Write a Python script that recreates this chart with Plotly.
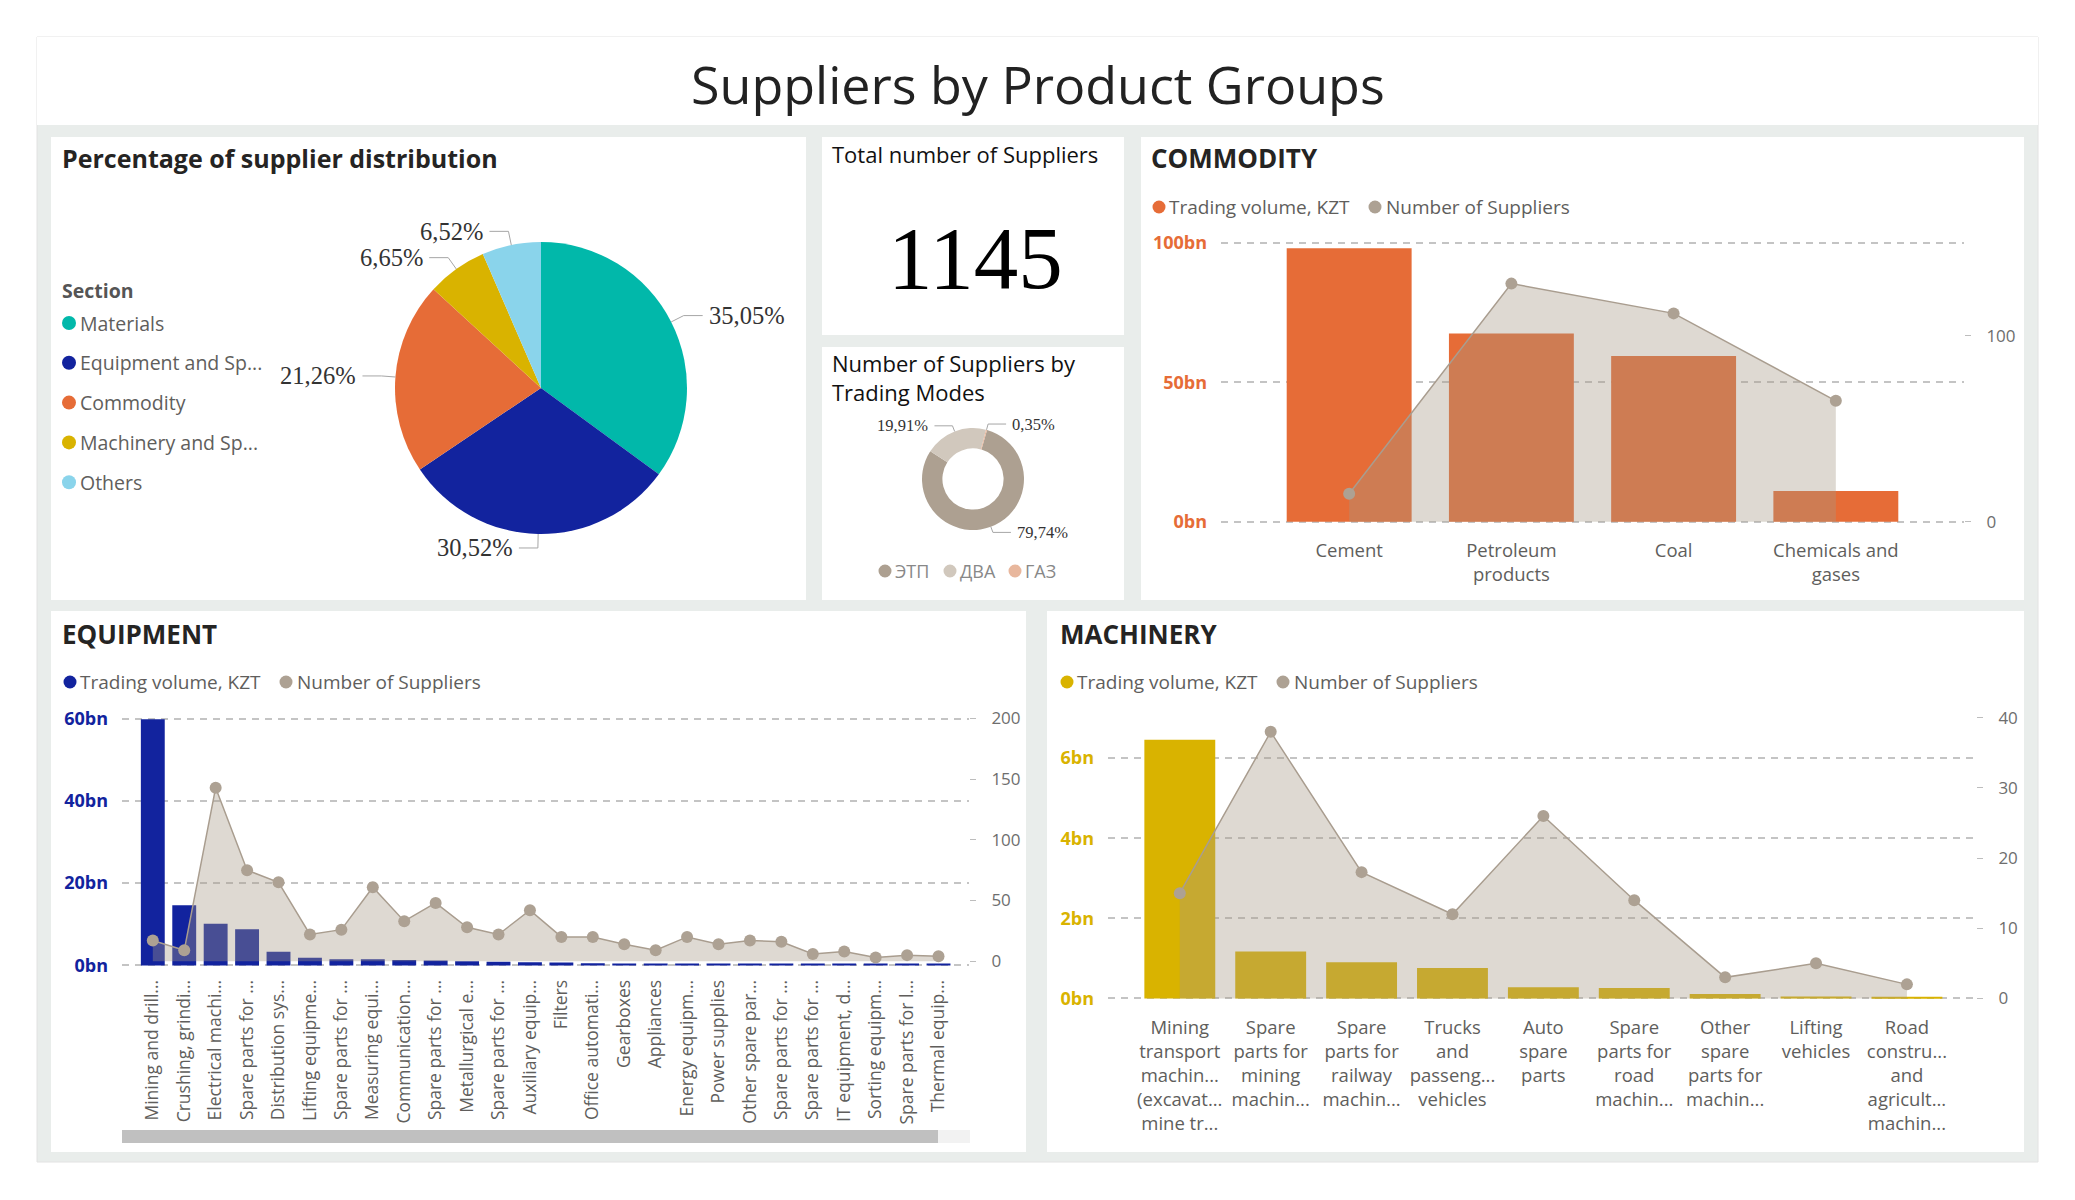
import math
import plotly.graph_objects as go

W, H = 2075, 1200
FONT = "Open Sans"
SERIF = "Liberation Serif"

# ---------------- data ----------------
title_text = "Suppliers by Product Groups"

pie_labels = ["Materials", "Equipment and Sp...", "Commodity", "Machinery and Sp...", "Others"]
pie_values = [35.05, 30.52, 21.26, 6.65, 6.52]
pie_colors = ["#01B8AA", "#12239E", "#E66C37", "#D9B300", "#8AD4EB"]

total_suppliers = 1145

mode_labels = ["ЭТП", "ДВА", "ГАЗ"]
mode_values = [79.74, 19.91, 0.35]
mode_colors = ["#ADA091", "#D1C8BD", "#E8B79D"]

com_cats = ["Cement", "Petroleum<br>products", "Coal", "Chemicals and<br>gases"]
com_volume_bn = [98.0, 67.5, 59.4, 11.0]
com_suppliers = [15, 128, 112, 65]
com_left_ticks = [0, 50, 100]
com_right_ticks = [0, 100]

eq_cats = ["Mining and drill...", "Crushing, grindi...", "Electrical machi...", "Spare parts for ...",
           "Distribution sys...", "Lifting equipme...", "Spare parts for ...", "Measuring equi...",
           "Communication...", "Spare parts for ...", "Metallurgical e...", "Spare parts for ...",
           "Auxiliary equip...", "Filters", "Office automati...", "Gearboxes", "Appliances",
           "Energy equipm...", "Power supplies", "Other spare par...", "Spare parts for ...",
           "Spare parts for ...", "IT equipment, d...", "Sorting equipm...", "Spare parts for l...",
           "Thermal equip..."]
eq_volume_bn = [59.8, 14.6, 10.1, 8.8, 3.3, 1.85, 1.5, 1.5, 1.3, 1.2, 1.0, 0.9, 0.75, 0.7, 0.5,
                0.45, 0.42, 0.4, 0.38, 0.36, 0.35, 0.33, 0.32, 0.3, 0.28, 0.26]
eq_suppliers = [17, 9, 143, 75, 65, 22, 26, 61, 33, 48, 28, 22, 42, 20, 20, 14, 9, 20, 14, 17,
                16, 6, 8, 3, 5, 4]
eq_left_ticks = [0, 20, 40, 60]
eq_right_ticks = [0, 50, 100, 150, 200]

mach_cats = ["Mining<br>transport<br>machin...<br>(excavat...<br>mine tr...",
             "Spare<br>parts for<br>mining<br>machin...",
             "Spare<br>parts for<br>railway<br>machin...",
             "Trucks<br>and<br>passeng...<br>vehicles",
             "Auto<br>spare<br>parts",
             "Spare<br>parts for<br>road<br>machin...",
             "Other<br>spare<br>parts for<br>machin...",
             "Lifting<br>vehicles",
             "Road<br>constru...<br>and<br>agricult...<br>machin..."]
mach_volume_bn = [6.46, 1.17, 0.90, 0.76, 0.28, 0.26, 0.11, 0.05, 0.04]
mach_suppliers = [15, 38, 18, 12, 26, 14, 3, 5, 2]
mach_left_ticks = [0, 2, 4, 6]
mach_right_ticks = [0, 10, 20, 30, 40]

legend_names = ["Trading volume, KZT", "Number of Suppliers"]

# ---------------- styles ----------------
BG = "#E9EDEB"
DARK = "#252423"
GRAY = "#605E5C"
AXGRAY = "#6E6E6E"
GRID = "#C4C4C4"
AREA_LINE = "#A99D8F"
AREA_MARK = "#ADA193"
AREA_FILL = "rgba(166,151,134,0.37)"
COM_C = "#E66C37"
EQ_C = "#12239E"
MACH_C = "#D9B300"


def fx(x):
    return x / W


def fy(y):
    return 1 - y / H


shapes = []
annotations = []


def rect(x0, y0, x1, y1, fill, line=None, layer="below"):
    shapes.append(dict(type="rect", xref="paper", yref="paper", x0=fx(x0), x1=fx(x1),
                       y0=fy(y1), y1=fy(y0), fillcolor=fill,
                       line=dict(width=1 if line else 0, color=line or fill), layer=layer))


def dot(cx, cy, r, color):
    shapes.append(dict(type="circle", xref="paper", yref="paper", x0=fx(cx - r), x1=fx(cx + r),
                       y0=fy(cy + r), y1=fy(cy - r), fillcolor=color, line=dict(width=0),
                       layer="above"))


def text(x, y, s, size, color, family=FONT, xanchor="left", yanchor="middle", weight=None):
    f = dict(size=size, color=color, family=family)
    if weight:
        f["weight"] = weight
    annotations.append(dict(x=fx(x), y=fy(y), xref="paper", yref="paper", text=s,
                            showarrow=False, xanchor=xanchor, yanchor=yanchor, font=f,
                            borderpad=0))


def slice_labels(values, cx, cy, r, rotation, k, h, gap, size):
    total = sum(values)
    cum = 0.0
    for v in values:
        mid = rotation + 360.0 * (cum + v / 2.0) / total
        cum += v
        a = math.radians(mid)
        sx, sy = math.sin(a), -math.cos(a)
        ex, ey = cx + r * sx, cy + r * sy
        bx, by = ex + k * sx, ey + k * sy
        side = 1 if sx >= 0 else -1
        tx = bx + side * h
        shapes.append(dict(type="path", xref="paper", yref="paper",
                           path=f"M {fx(ex)} {fy(ey)} L {fx(bx)} {fy(by)} L {fx(tx)} {fy(by)}",
                           line=dict(color="#A6A6A6", width=1), layer="above"))
        label = f"{100.0 * v / total:.2f}%".replace(".", ",")
        text(tx + side * gap, by, label, size, "#333333", family=SERIF,
             xanchor="left" if side > 0 else "right")


def chart_legend(x, y, color):
    dot(x, y, 6.5, color)
    text(x + 9, y, legend_names[0], 19, GRAY)
    x2 = x + 216
    dot(x2, y, 6.5, AREA_MARK)
    text(x2 + 10, y, legend_names[1], 19, GRAY)


# ---------------- background / panels ----------------
rect(37, 37, 2038, 1162, BG, line="#E2E2E2")
rect(37, 37, 2038, 125, "#FFFFFF")
rect(51, 137, 806, 600, "#FFFFFF")
rect(822, 137, 1124, 335, "#FFFFFF")
rect(822, 347, 1124, 600, "#FFFFFF")
rect(1141, 137, 2024, 600, "#FFFFFF")
rect(51, 611, 1026, 1152, "#FFFFFF")
rect(1047, 611, 2024, 1152, "#FFFFFF")

# title
text(1038, 83, title_text, 52, "#222222", xanchor="center")

# ---------------- pie ----------------
text(61, 158, "Percentage of supplier distribution", 25, DARK, weight=700)
text(61, 291, "Section", 19.5, "#555555", weight=700)
for i, (lab, col) in enumerate(zip(pie_labels, pie_colors)):
    yy = 323 + i * 39.8
    dot(69, yy, 7, col)
    text(79, yy, lab, 19.5, GRAY)

PCX, PCY, PR = 541, 388, 146
pie = go.Pie(labels=pie_labels, values=pie_values, sort=False, direction="clockwise", rotation=0,
             marker=dict(colors=pie_colors, line=dict(width=0)), textinfo="none",
             hoverinfo="label+percent", showlegend=False,
             domain=dict(x=[fx(PCX - PR), fx(PCX + PR)], y=[fy(PCY + PR), fy(PCY - PR)]))
slice_labels(pie_values, PCX, PCY, PR, 0, 14, 19, 5, 24.5)

# ---------------- total card ----------------
text(831, 154, "Total number of Suppliers", 22, "#111111")
text(975, 258, f"{total_suppliers}", 89, "#000000", family=SERIF, xanchor="center")

# ---------------- donut ----------------
text(831, 363, "Number of Suppliers by", 22, "#111111")
text(831, 392, "Trading Modes", 22, "#111111")
DCX, DCY, DR = 973, 479, 51
DROT = 16
donut = go.Pie(labels=mode_labels, values=mode_values, sort=False, direction="clockwise",
               rotation=DROT, hole=0.6, marker=dict(colors=mode_colors, line=dict(width=0)),
               textinfo="none", showlegend=False,
               domain=dict(x=[fx(DCX - DR), fx(DCX + DR)], y=[fy(DCY + DR), fy(DCY - DR)]))
slice_labels(mode_values, DCX, DCY, DR, DROT, 6, 18, 5, 16.5)
lx = 885
for lab, col in zip(mode_labels, mode_colors):
    dot(lx, 571, 6.5, col)
    text(lx + 9, 571, lab, 18, "#888888")
    lx += 65

# ---------------- charts ----------------
chart_legend(1159, 207, COM_C)
text(1150, 158, "COMMODITY", 26, DARK, weight=700)
chart_legend(70, 682, EQ_C)
text(61, 634, "EQUIPMENT", 26, DARK, weight=700)
chart_legend(1067, 682, MACH_C)
text(1059, 634, "MACHINERY", 26, DARK, weight=700)

# scrollbar of equipment chart
rect(122, 1130, 970, 1143, "#F2F2F2")
rect(122, 1130, 938, 1143, "#C0C0C0")

fig = go.Figure()
fig.add_trace(pie)
fig.add_trace(donut)


def combo(cats, vol, sup, color, xa, ya, ya2, width):
    xs = list(range(len(cats)))
    fig.add_trace(go.Bar(x=xs, y=vol, width=width, marker=dict(color=color, line=dict(width=0)),
                         xaxis=xa, yaxis=ya, showlegend=False, name=legend_names[0]))
    fig.add_trace(go.Scatter(x=xs, y=sup, mode="lines+markers", fill="tozeroy",
                             fillcolor=AREA_FILL, line=dict(color=AREA_LINE, width=1.5),
                             marker=dict(color=AREA_MARK, size=12), xaxis=xa, yaxis=ya2,
                             showlegend=False, name=legend_names[1]))


combo(com_cats, com_volume_bn, com_suppliers, COM_C, "x", "y", "y2", 0.77)
combo(eq_cats, eq_volume_bn, eq_suppliers, EQ_C, "x2", "y3", "y4", 0.76)
combo(mach_cats, mach_volume_bn, mach_suppliers, MACH_C, "x3", "y5", "y6", 0.78)

PAD = 2  # px of headroom so that edge gridlines are drawn


def value_range(v0, p0, v1, p1, top, bot):
    ppu = (p0 - p1) / (v1 - v0)
    return [v0 - (bot - p0) / ppu, v1 + (p1 - top) / ppu]


def xax(x0, x1, anchor, rng, cats, angle=0, standoff=14, size=18):
    return dict(domain=[fx(x0), fx(x1)], anchor=anchor, range=rng,
                tickvals=list(range(len(cats))), ticktext=cats, tickangle=angle,
                showgrid=False, zeroline=False, showline=False, ticks="", automargin=False,
                ticklabelstandoff=standoff, tickfont=dict(family=FONT, size=size, color=GRAY),
                fixedrange=True)


def yleft(top, bot, anchor, rng, ticks, color):
    return dict(domain=[fy(bot), fy(top)], anchor=anchor, range=rng, tickvals=ticks,
                ticktext=[f"{t}bn" for t in ticks], showgrid=True, gridcolor=GRID,
                gridwidth=1.5, griddash="7px,6px", zeroline=False, showline=False, ticks="",
                ticklabelstandoff=13, automargin=False,
                tickfont=dict(family=FONT, size=18, color=color, weight=700), fixedrange=True)


def yright(overlay, anchor, rng, ticks):
    return dict(overlaying=overlay, side="right", anchor=anchor, range=rng, tickvals=ticks,
                showgrid=False, zeroline=False, showline=False, ticks="outside", ticklen=6,
                tickwidth=1, tickcolor="#BDBDBD", ticklabelstandoff=12, automargin=False,
                tickfont=dict(family=FONT, size=17, color=AXGRAY), fixedrange=True)


# plot areas (px): commodity, equipment, machinery
C_T, C_B = 242.7 - PAD, 521.7 + PAD
E_T, E_B = 718.5 - PAD, 965.4 + PAD
M_T, M_B = 717.8 - PAD, 998.4 + PAD

fig.update_layout(
    width=W, height=H, margin=dict(l=0, r=0, t=0, b=0, autoexpand=False),
    paper_bgcolor="#FFFFFF", plot_bgcolor="rgba(0,0,0,0)",
    font=dict(family=FONT, color=GRAY),
    barmode="overlay",
    shapes=shapes, annotations=annotations, showlegend=False,
    xaxis=xax(1221, 1964, "y", [-0.79, 3.79], com_cats, standoff=14, size=18.5),
    yaxis=yleft(C_T, C_B, "x", value_range(0, 521.7, 100, 242.7, C_T, C_B), com_left_ticks, COM_C),
    yaxis2=yright("y", "x", value_range(0, 521.7, 100, 335.7, C_T, C_B), com_right_ticks),
    xaxis2=xax(122, 969, "y3", [-0.98, 25.97], eq_cats, angle=-90, standoff=8, size=17.5),
    yaxis3=yleft(E_T, E_B, "x2", value_range(0, 965.4, 60, 718.5, E_T, E_B), eq_left_ticks, EQ_C),
    yaxis4=yright("y3", "x2", value_range(0, 961.2, 200, 718.5, E_T, E_B), eq_right_ticks),
    xaxis3=xax(1108, 1976, "y5", [-0.79, 8.76], mach_cats, standoff=14, size=18.5),
    yaxis5=yleft(M_T, M_B, "x3", value_range(0, 998.4, 6, 758.1, M_T, M_B), mach_left_ticks, MACH_C),
    yaxis6=yright("y5", "x3", value_range(0, 998.4, 40, 717.8, M_T, M_B), mach_right_ticks),
)

fig.write_html("out.html", config={"displayModeBar": False},
               post_script="document.body.style.margin='0px';")
